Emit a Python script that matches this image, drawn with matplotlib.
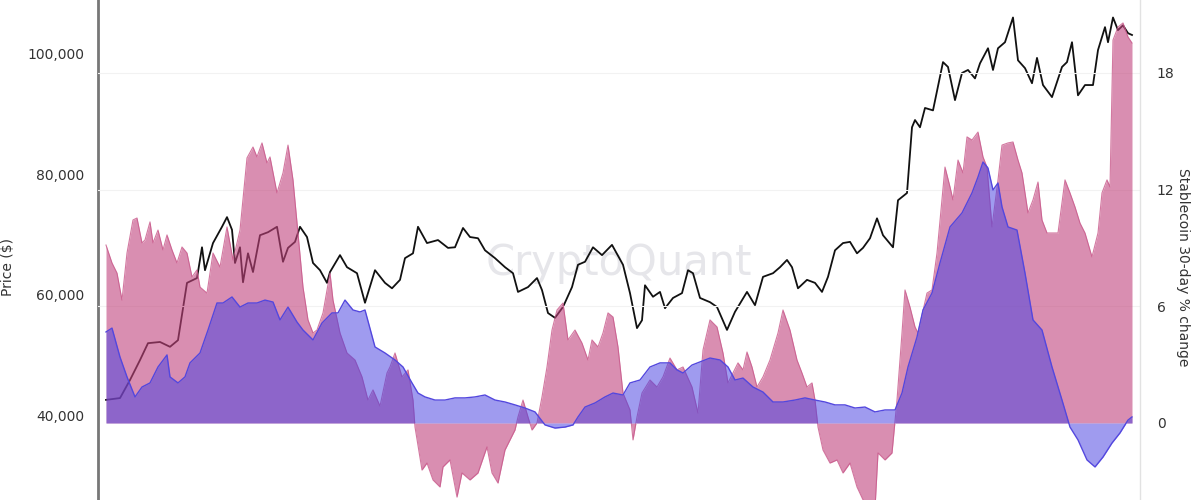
import numpy as np
import matplotlib
matplotlib.use("Agg")
import matplotlib.pyplot as plt
from matplotlib.ticker import FuncFormatter

# timeline position (arbitrary step units, no date axis is visible)
price_t = [1, 15, 25, 35, 43, 55, 65, 73, 82, 92, 97, 100, 108, 117, 122, 127, 130, 135, 138, 143,
           148, 155, 163, 172, 178, 183, 190, 195, 202, 208, 215, 222, 225, 235, 242, 252, 260, 270, 280, 287,
           295, 300, 308, 313, 322, 333, 343, 350, 358, 365, 373, 380, 390, 400, 408, 413, 423, 432, 437, 443,
           450, 458, 467, 473, 480, 488, 497, 507, 518, 525, 532, 537, 540, 548, 555, 560, 568, 577, 583, 588,
           595, 605, 612, 622, 630, 642, 650, 658, 668, 675, 682, 687, 693, 702, 710, 717, 723, 730, 738, 745,
           752, 758, 765, 772, 778, 788, 793, 802, 807, 810, 815, 820, 828, 838, 843, 850, 857, 863, 870, 875,
           883, 888, 893, 900, 908, 913, 920, 927, 932, 938, 947, 957, 962, 967, 973, 980, 988, 993, 1000, 1003,
           1008, 1013, 1018, 1023, 1027]
price_usd = [42600, 42900, 45900, 49200, 52000, 52200, 51400, 52500, 62000, 62800, 67900, 64100, 68600, 71300, 72900, 70800, 65300, 67900, 62100, 66900,
             63800, 69900, 70400, 71300, 65500, 67800, 68800, 71300, 69600, 65300, 64100, 62000, 63800, 66600, 64600, 63600, 58700, 64100, 62000, 61100,
             62500, 66100, 66900, 71300, 68600, 69100, 67800, 67900, 71100, 69600, 69400, 67400, 66100, 64600, 63600, 60500, 61300, 62800, 60800, 57000,
             56200, 58000, 61300, 65000, 65500, 67900, 66600, 68300, 65000, 60300, 54500, 55800, 61600, 59700, 60500, 57800, 59500, 60300, 64100, 63600,
             59500, 58800, 58000, 54200, 57200, 60500, 58300, 63000, 63600, 64600, 65800, 64600, 61100, 62500, 62000, 60500, 63000, 67400, 68600, 68800,
             66900, 67800, 69400, 72700, 69900, 67900, 75700, 76900, 87800, 89000, 87800, 91000, 90600, 98600, 97800, 92300, 96800, 97300, 95900, 98400,
             100900, 97300, 100900, 101900, 106000, 98900, 97600, 95100, 99300, 94800, 92800, 97800, 98600, 101900, 93100, 94800, 94800, 100600, 104400, 101900,
             106000, 103900, 104700, 103400, 103100]

pink_t = [1, 7, 12, 17, 22, 28, 32, 37, 40, 45, 48, 53, 58, 62, 67, 72, 77, 82, 87, 92,
          95, 102, 108, 115, 122, 128, 135, 142, 148, 152, 157, 162, 165, 172, 178, 183, 188, 193, 198, 203,
          208, 212, 218, 225, 228, 235, 242, 250, 257, 263, 268, 275, 282, 285, 290, 297, 303, 308, 310, 317,
          322, 328, 335, 338, 345, 352, 357, 365, 373, 382, 387, 393, 400, 405, 410, 413, 418, 423, 427, 432,
          437, 442, 447, 452, 458, 463, 470, 477, 483, 487, 493, 498, 503, 508, 513, 518, 525, 528, 532, 537,
          545, 552, 558, 565, 572, 578, 587, 593, 598, 605, 612, 618, 623, 628, 633, 638, 642, 647, 652, 658,
          665, 673, 678, 685, 692, 697, 702, 707, 710, 713, 718, 725, 732, 738, 745, 752, 758, 765, 770, 773,
          780, 787, 792, 797, 800, 805, 810, 813, 822, 827, 832, 837, 840, 845, 848, 853, 858, 862, 867, 873,
          878, 882, 887, 893, 897, 903, 908, 913, 917, 923, 928, 933, 937, 942, 947, 953, 960, 965, 970, 975,
          980, 987, 993, 997, 1002, 1005, 1008, 1013, 1018, 1023, 1027]
pink_pct = [9.15, 8.23, 7.71, 6.32, 8.74, 10.44, 10.54, 9.26, 9.41, 10.34, 9.26, 9.92, 8.90, 9.67, 8.90, 8.23, 9.05, 8.74, 7.51, 7.87,
            6.99, 6.68, 8.74, 8.02, 10.08, 8.38, 9.92, 13.63, 14.19, 13.68, 14.40, 13.37, 13.68, 11.83, 12.86, 14.29, 12.50, 9.77, 6.99, 5.30,
            4.63, 4.78, 5.66, 7.71, 6.32, 4.63, 3.60, 3.24, 2.37, 1.18, 1.70, 0.87, 2.57, 2.88, 3.60, 2.37, 2.73, 1.18, -0.21, -2.42,
            -2.06, -2.93, -3.29, -2.26, -1.90, -3.81, -2.57, -2.93, -2.57, -1.23, -2.57, -3.09, -1.39, -0.87, -0.36, 0.31, 1.18, 0.31, -0.36, 0.0,
            1.34, 2.88, 4.78, 5.81, 6.17, 4.27, 4.78, 4.11, 3.24, 4.27, 3.91, 4.63, 5.66, 5.45, 3.91, 1.54, 0.67, -0.87, 0.31, 1.54,
            2.21, 1.85, 2.37, 3.34, 2.73, 2.88, 1.85, 0.51, 3.75, 5.30, 4.94, 3.60, 2.06, 2.57, 3.09, 2.73, 3.65, 2.88, 1.85, 2.37,
            3.24, 4.63, 5.81, 4.78, 3.24, 2.57, 1.85, 2.06, 1.18, -0.21, -1.39, -2.06, -1.90, -2.57, -2.06, -3.29, -3.96, -4.60, -4.40, -1.54,
            -1.90, -1.54, 1.18, 4.63, 6.84, 5.96, 4.94, 4.63, 6.68, 6.84, 8.74, 11.47, 13.16, 12.14, 11.47, 13.52, 12.86, 14.71, 14.55, 14.96,
            13.68, 13.16, 10.08, 12.50, 14.29, 14.40, 14.45, 13.52, 12.86, 10.80, 11.47, 12.39, 10.44, 9.77, 9.77, 9.77, 12.50, 11.83, 11.11, 10.28,
            9.77, 8.54, 9.77, 11.83, 12.50, 12.14, 19.69, 20.36, 20.57, 19.85, 19.54]

blue_t = [1, 7, 15, 22, 30, 37, 45, 53, 62, 65, 73, 80, 85, 95, 103, 112, 118, 127, 135, 143,
          152, 160, 168, 175, 183, 192, 198, 208, 217, 227, 233, 240, 248, 255, 260, 270, 280, 290, 298, 307,
          313, 320, 330, 340, 350, 360, 370, 380, 390, 400, 410, 420, 430, 440, 450, 460, 468, 473, 480, 490,
          500, 508, 518, 525, 535, 545, 555, 565, 572, 578, 587, 595, 605, 615, 623, 630, 638, 648, 658, 668,
          678, 690, 700, 710, 720, 730, 740, 750, 760, 770, 780, 790, 797, 803, 812, 818, 827, 835, 845, 857,
          867, 873, 878, 883, 888, 893, 897, 903, 912, 920, 928, 937, 947, 957, 965, 973, 982, 990, 998, 1007,
          1015, 1023, 1027]
blue_pct = [4.68, 4.88, 3.39, 2.37, 1.34, 1.85, 2.06, 2.88, 3.50, 2.37, 2.06, 2.37, 3.09, 3.60, 4.78, 6.17, 6.17, 6.48, 5.96, 6.17,
            6.17, 6.32, 6.22, 5.30, 5.96, 5.19, 4.78, 4.27, 5.14, 5.66, 5.66, 6.32, 5.81, 5.71, 5.81, 3.91, 3.60, 3.24, 2.88, 2.06,
            1.54, 1.34, 1.18, 1.18, 1.29, 1.29, 1.34, 1.44, 1.18, 1.08, 0.93, 0.77, 0.57, -0.10, -0.26, -0.21, -0.10, 0.31, 0.82, 1.03,
            1.34, 1.54, 1.44, 2.06, 2.21, 2.88, 3.09, 3.09, 2.73, 2.57, 2.98, 3.14, 3.34, 3.24, 2.88, 2.21, 2.31, 1.85, 1.59, 1.08,
            1.08, 1.18, 1.29, 1.18, 1.08, 0.93, 0.93, 0.77, 0.82, 0.57, 0.67, 0.67, 1.54, 2.88, 4.42, 5.81, 6.68, 8.23, 10.08, 10.80,
            11.83, 12.65, 13.42, 13.11, 11.98, 12.34, 11.11, 10.08, 9.92, 7.71, 5.30, 4.78, 2.88, 1.18, -0.21, -0.87, -1.90, -2.26, -1.75, -1.03,
            -0.51, 0.15, 0.31]

price_ticks = [40000, 60000, 80000, 100000]
pct_ticks = [0, 6, 12, 18]

assert len(price_t) == len(price_usd)
assert len(pink_t) == len(pink_pct)
assert len(blue_t) == len(blue_pct)

fig = plt.figure(figsize=(12, 5), dpi=100)
ax = fig.add_axes([98 / 1200, 0, 1042 / 1200, 1])
ax2 = ax.twinx()

# price line sits underneath the translucent fills
ax.plot(price_t, price_usd, color="#111111", lw=1.3, zorder=2)
ax.text(0.50, 0.475, "CryptoQuant", transform=ax.transAxes, fontsize=30,
        color="#e6e6ea", ha="center", va="center", zorder=1)

ax2.set_zorder(ax.get_zorder() + 1)
ax2.patch.set_visible(False)
for v in pct_ticks[1:]:
    ax2.axhline(v, color="#f2f2f2", lw=0.8, zorder=0)

ax2.fill_between(pink_t, 0, pink_pct, color="#C1437D", alpha=0.6, lw=0, zorder=2)
ax2.plot(pink_t, pink_pct, color="#c8588a", lw=0.8, alpha=0.8, zorder=3)
ax2.fill_between(blue_t, 0, blue_pct, color="#4A42E1", alpha=0.53, lw=0, zorder=4)
ax2.plot(blue_t, blue_pct, color="#5347de", lw=1.0, zorder=5)

ax.set_xlim(-7, 1035)
ax.set_ylim(26000, 108900)
ax2.set_ylim(-3.96, 21.75)

ax.set_yticks(price_ticks)
ax.yaxis.set_major_formatter(FuncFormatter(lambda v, p: f"{int(v):,}"))
ax2.set_yticks(pct_ticks)
ax.set_xticks([])

ax.tick_params(axis="y", length=0, pad=10, labelsize=10, labelcolor="#333333")
ax2.tick_params(axis="y", length=0, pad=12, labelsize=10, labelcolor="#333333")

for s in ["top", "bottom", "right"]:
    ax.spines[s].set_visible(False)
for s in ["top", "bottom", "left"]:
    ax2.spines[s].set_visible(False)
ax.spines["left"].set_color("#777777")
ax.spines["left"].set_linewidth(2)
ax2.spines["right"].set_color("#e2e2e2")
ax2.spines["right"].set_linewidth(1)

ax.set_ylabel("Price ($)", fontsize=10, color="#333333")
ax.yaxis.set_label_coords(-0.08, 0.466)
ax2.set_ylabel("Stablecoin 30-day % change", fontsize=10, color="#333333",
               rotation=270, va="center")
ax2.yaxis.set_label_coords(1.041, 0.466)

fig.savefig("out.png", dpi=100)
